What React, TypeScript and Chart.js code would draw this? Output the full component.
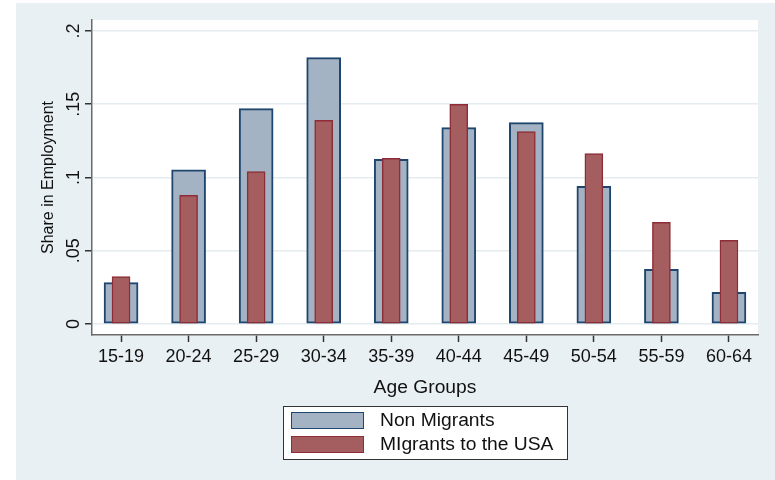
import React, { useEffect, useRef } from 'react';
import { Chart, registerables } from 'chart.js';

Chart.register(...registerables);

const categories = ['15-19', '20-24', '25-29', '30-34', '35-39', '40-44', '45-49', '50-54', '55-59', '60-64'];
const nonMigrants = [0.0282, 0.1053, 0.147, 0.1818, 0.1124, 0.134, 0.1374, 0.094, 0.0373, 0.0216];
const migrantsUSA = [0.0323, 0.0879, 0.104, 0.139, 0.1131, 0.15, 0.1313, 0.1163, 0.0694, 0.0571];
const yTickValues = [0, 0.05, 0.1, 0.15, 0.2];
const yTickLabels = ['0', '.05', '.1', '.15', '.2'];
const seriesLabels = ['Non Migrants', 'MIgrants to the USA'];
const yTitle = 'Share in Employment';
const xTitle = 'Age Groups';

const FONT = '"Liberation Sans", Arial, Helvetica, sans-serif';
const BG = '#e9f0f3';
const GRID = '#e4ecef';
const BLUE_FILL = '#a4b3c4';
const BLUE_LINE = '#1e466e';
const RED_FILL = '#a55e60';
const RED_LINE = '#8c2d37';
const STRETCH = 1.07;

function wideText(ctx: any, text: string, x: number, y: number) {
  ctx.save();
  ctx.translate(x, y);
  ctx.scale(STRETCH, 1);
  ctx.fillText(text, 0, 0);
  ctx.restore();
}

const decor = {
  id: 'decor',
  beforeDraw(chart: any) {
    const { ctx, width, height, chartArea: ca } = chart;
    ctx.save();
    ctx.fillStyle = '#ffffff';
    ctx.fillRect(0, 0, width, height);
    ctx.fillStyle = BG;
    ctx.fillRect(16, 3, width - 16, height - 3);
    ctx.fillStyle = '#ffffff';
    ctx.fillRect(ca.left, ca.top, ca.right - ca.left, ca.bottom - ca.top);
    ctx.restore();
  },
  afterDraw(chart: any) {
    const { ctx, chartArea: ca } = chart;
    const ys = chart.scales.y;
    ctx.save();
    ctx.fillStyle = '#111';
    ctx.font = `18px ${FONT}`;
    ctx.textAlign = 'center';
    ctx.textBaseline = 'alphabetic';
    yTickValues.forEach((v, i) => {
      const py = ys.getPixelForValue(v);
      ctx.save();
      ctx.translate(79, py);
      ctx.rotate(-Math.PI / 2);
      ctx.fillText(yTickLabels[i], 0, 0);
      ctx.restore();
    });
    ctx.font = `16px ${FONT}`;
    ctx.save();
    ctx.translate(53, (ca.top + ca.bottom) / 2);
    ctx.rotate(-Math.PI / 2);
    ctx.fillText(yTitle, 0, 0);
    ctx.restore();
    ctx.font = `18px ${FONT}`;
    wideText(ctx, xTitle, (ca.left + ca.right) / 2, 393);
    ctx.fillStyle = '#ffffff';
    ctx.fillRect(283, 406, 284, 53);
    ctx.strokeStyle = '#333';
    ctx.lineWidth = 1;
    ctx.strokeRect(283.5, 406.5, 284, 53);
    const items = [
      { label: seriesLabels[0], fill: BLUE_FILL, line: BLUE_LINE, y: 412 },
      { label: seriesLabels[1], fill: RED_FILL, line: RED_LINE, y: 436 },
    ];
    items.forEach((it) => {
      ctx.fillStyle = it.fill;
      ctx.fillRect(291, it.y, 73, 17);
      ctx.strokeStyle = it.line;
      ctx.lineWidth = 1;
      ctx.strokeRect(291.5, it.y + 0.5, 72, 16);
      ctx.fillStyle = '#111';
      ctx.textAlign = 'left';
      ctx.textBaseline = 'middle';
      ctx.font = `18px ${FONT}`;
      wideText(ctx, it.label, 380, it.y + 9.5);
    });
    ctx.restore();
  },
};

export default function App() {
  const ref = useRef<HTMLCanvasElement>(null);
  useEffect(() => {
    const chart = new Chart(ref.current as HTMLCanvasElement, {
      type: 'bar',
      data: {
        datasets: [
          {
            label: seriesLabels[0],
            data: nonMigrants.map((v, i) => ({ x: i, y: v })),
            backgroundColor: BLUE_FILL,
            borderColor: BLUE_LINE,
            borderWidth: 2,
            borderSkipped: false,
            barThickness: 34,
            grouped: false,
            order: 2,
          },
          {
            label: seriesLabels[1],
            data: migrantsUSA.map((v, i) => ({ x: i, y: v })),
            backgroundColor: RED_FILL,
            borderColor: RED_LINE,
            borderWidth: 1.5,
            borderSkipped: false,
            barThickness: 18,
            grouped: false,
            order: 1,
          },
        ],
      } as any,
      options: {
        responsive: false,
        animation: false,
        devicePixelRatio: 1,
        layout: { padding: { left: 16, top: 20, right: 17, bottom: 0 } },
        plugins: { legend: { display: false }, tooltip: { enabled: false } },
        scales: {
          x: {
            type: 'linear',
            offset: false,
            min: -0.43,
            max: 9.43,
            afterBuildTicks: (s: any) => {
              s.ticks = categories.map((_, i) => ({ value: i }));
            },
            afterFit: (s: any) => {
              s.height = 145;
            },
            ticks: {
              autoSkip: false,
              maxRotation: 0,
              minRotation: 0,
              padding: 4,
              color: '#111',
              font: { family: FONT, size: 18 },
              callback: (v: any) => categories[Math.round(Number(v))] ?? '',
            },
            grid: {
              offset: false,
              drawOnChartArea: false,
              drawTicks: true,
              tickLength: 7,
              tickColor: '#333',
              tickWidth: 1.5,
            },
            border: { display: true, color: '#6a6a6a', width: 1.5 },
          },
          y: {
            type: 'linear',
            min: -0.0075,
            max: 0.2075,
            afterBuildTicks: (s: any) => {
              s.ticks = yTickValues.map((v) => ({ value: v }));
            },
            afterFit: (s: any) => {
              s.width = 76;
            },
            ticks: { display: false },
            grid: {
              color: GRID,
              lineWidth: 1.5,
              drawTicks: true,
              tickLength: 7,
              tickColor: '#333',
              tickWidth: 1.5,
            },
            border: { display: true, color: '#6a6a6a', width: 1.5 },
          },
        },
      } as any,
      plugins: [decor],
    });
    return () => chart.destroy();
  }, []);
  return (
    <div style={{ position: 'fixed', left: 0, top: 0, width: 775, height: 480 }}>
      <canvas ref={ref} width={775} height={480} style={{ display: 'block', width: 775, height: 480 }} />
    </div>
  );
}
